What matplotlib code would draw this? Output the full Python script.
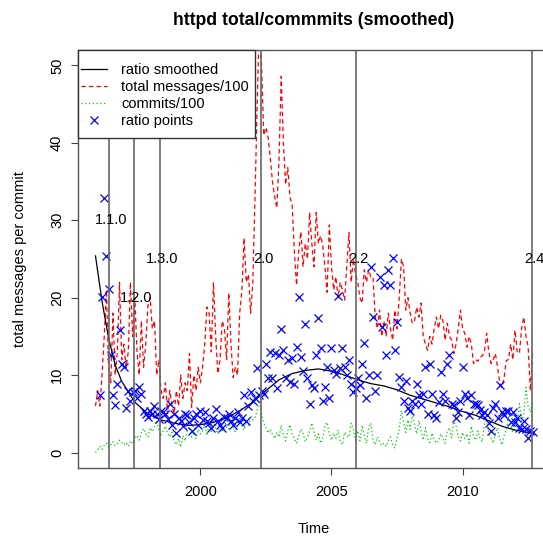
import numpy as np
import matplotlib
matplotlib.use('Agg')
import matplotlib.pyplot as plt
from matplotlib.patches import Rectangle

plt.rcParams['font.family'] = ['Liberation Sans', 'DejaVu Sans']

# monthly values, Jan 1996 .. Sep 2012
total_100 = [6,
    8, 6, 10, 15, 21, 11, 9, 18, 10, 13, 22, 12,
    14, 11, 13, 22, 15, 20, 13, 10, 17, 11, 14, 19,
    20, 16, 17, 10, 12, 8, 7, 9, 5, 8, 6, 5,
    8, 6, 10, 7, 9, 8, 12.8, 5.8, 10, 8, 11, 9,
    11, 14, 18.8, 18, 13, 22, 15, 10.2, 12, 17, 16, 12,
    20.6, 14, 9.7, 11, 10, 18, 21, 27.7, 22, 23, 18, 22,
    33, 45, 56, 50, 41, 42, 40.7, 38, 35, 33, 31.6, 38,
    48.6, 40, 34.6, 36.8, 33, 32, 26, 21.6, 26, 28.5, 24, 27,
    25, 31, 27, 24, 31, 27, 28, 26.8, 24, 20.7, 29.4, 24,
    21, 22.7, 20, 22, 21, 19.7, 24, 28.4, 22, 25, 23, 22,
    20, 19.3, 23.6, 22, 23.6, 22.7, 22.7, 17.5, 16, 18.4, 15, 17,
    15, 18, 16, 14.5, 18.4, 16, 20, 25, 24, 18.4, 20, 18,
    16.7, 17, 18.8, 17.5, 19.3, 15, 14, 13.2, 15, 14, 16, 17.5,
    16, 17.7, 17, 14.5, 16.7, 15, 14.5, 12.8, 14, 16, 18.4, 16,
    15.4, 13.6, 15, 14, 11.5, 12, 11.8, 12.3, 12.5, 13, 15.4, 13,
    11.5, 12, 12.8, 11, 9, 8.4, 9.7, 11.9, 12, 14, 12, 15.8,
    13, 12.8, 16, 17.5, 15, 13.6, 8, 12.8]

commits_100 = [0.0,
    0.3, 0.8, 0.4, 0.9, 1.2, 0.7, 1.0, 1.4, 0.9, 1.1, 1.6, 1.3,
    1.0, 1.3, 0.8, 1.5, 1.2, 1.8, 2.2, 1.6, 2.6, 3.1, 2.4, 2.0,
    3.2, 2.7, 3.4, 4.1, 3.0, 2.2, 2.8, 3.4, 2.5, 2.0, 2.6, 1.5,
    1.0, 1.8, 0.7, 2.2, 1.5, 2.8, 3.3, 2.0, 2.6, 1.8, 3.0, 2.4,
    2.8, 3.5, 2.2, 3.8, 2.6, 4.0, 3.0, 2.4, 3.6, 2.8, 4.2, 3.2,
    3.0, 4.3, 3.4, 2.6, 3.8, 4.6, 3.3, 2.9, 4.0, 3.5, 4.8, 4.2,
    4.5, 5.5, 6.7, 5.0, 3.8, 3.2, 2.5, 3.0, 2.3, 1.8, 2.6, 2.0,
    3.5, 2.2, 1.5, 2.8, 3.6, 2.4, 1.8, 1.2, 2.2, 3.0, 2.5, 1.4,
    2.0, 2.8, 3.8, 2.6, 1.6, 2.4, 1.2, 1.9, 3.5, 3.9, 2.4, 1.6,
    2.5, 1.8, 2.9, 1.5, 1.0, 2.6, 2.2, 2.0, 3.8, 3.0, 1.6, 2.8,
    1.5, 3.5, 2.2, 1.2, 3.2, 3.8, 1.6, 1.0, 2.0, 1.4, 0.9, 1.2,
    0.8, 1.5, 2.0, 1.0, 0.6, 1.8, 3.0, 5.4, 4.0, 2.6, 4.2, 3.0,
    5.0, 3.6, 2.4, 4.1, 2.8, 1.6, 3.2, 1.8, 1.3, 2.5, 1.6, 1.2,
    1.5, 2.4, 1.8, 1.2, 2.8, 3.2, 1.9, 4.0, 3.4, 2.0, 1.5, 2.6,
    1.8, 2.4, 1.2, 3.4, 2.0, 1.6, 2.8, 1.8, 1.4, 3.8, 4.1, 2.5,
    1.8, 1.2, 2.4, 3.2, 1.8, 1.0, 2.2, 3.0, 4.6, 3.4, 2.6, 4.8,
    3.6, 6.3, 4.0, 5.0, 8.4, 6.0, 5.2, 6.5]

nan = float('nan')
ratio = [nan, nan,
    7.4, 20.1, 32.9, 25.4, 21.1, 12.6, 7.4, 6.1, 8.9, 15.8, 11.5,
    11.1, 5.7, 8.0, 6.7, 7.8, 8.0, 7.1, 8.4, 7.6, 5.4, 5.0,
    4.6, 5.4, 5.0, 6.0, 5.0, 4.3, 5.4, 5.2, 5.0, 4.3, 6.3, 3.6,
    5.0, 2.5, 4.5, 4.1, 3.4, 5.0, 4.8, 3.9, 2.8, 4.4, 5.0, 3.6,
    5.4, 4.2, 5.2, 4.1, 3.8, 3.2, 4.5, 5.6, 4.1, 3.5, 3.2, 4.6,
    4.4, 5.0, 4.1, 3.6, 4.5, 5.2, 3.9, 4.4, 7.4, 4.1,
    6.0, 7.8, 6.7, 7.0, 10.9, 7.4, 8.0, 7.6, 11.5, 9.6, 13.0, 9.6, 12.8, 8.3,
    12.6, 16.0, 13.2, 9.6, 12.0, 9.1, 12.2, 8.9, 13.6, 20.1, 12.3, 10.5,
    16.6, 9.6, 6.3, 8.7, 8.3, 12.6, 17.4, 13.5, 6.7, 8.4, 11.0, 7.1,
    13.5, 10.6, 10.2, 20.2, 10.9, 13.5, 11.0, 10.0, 12.0, 8.9, 7.8, 8.3,
    9.6, 8.7, 11.5, 14.1, 7.0, 10.0, 24.0, 17.5, 8.0, 10.0, 22.7, 16.2,
    21.6, 12.6, 23.6, 21.6, 25.1, 13.3, 16.8, 9.7, 8.4, 6.7, 9.3, 5.8,
    5.4, 6.7, 6.3, 8.8, 7.4, 6.3, 7.6, 11.0, 5.0, 11.5, 7.6, 4.8,
    4.4, 6.5, 10.4, 7.6, 6.7, 11.5, 12.6, 6.3, 6.1, 4.4, 5.2, 6.7,
    11.0, 7.6, 7.1, 4.8, 7.4, 6.3, 6.3, 6.1, 5.5, 4.9, 5.2, 4.8,
    3.8, 2.8, 5.8, 6.3, 4.5, 8.7, 5.2, 4.8, 5.4, 5.4, 3.9, 5.2,
    3.9, 4.5, 3.2, 3.1, 4.1, 3.0, 1.9, 2.8, 2.6]

# smoothed ratio curve, read every half year
smooth_years = [1996.0, 1996.25, 1996.5, 1996.75, 1997.0, 1997.5, 1998.0, 1998.5,
                1999.0, 1999.5, 2000.0, 2000.5, 2001.0, 2001.5, 2002.0, 2002.5,
                2003.0, 2003.5, 2004.0, 2004.5, 2005.0, 2005.5, 2006.0, 2006.5,
                2007.0, 2007.5, 2008.0, 2008.5, 2009.0, 2009.5, 2010.0, 2010.5,
                2011.0, 2011.5, 2012.0, 2012.5, 2012.67]
smooth_ratio = [25.4, 19.5, 14.8, 11.3, 9.2, 6.5, 5.0, 4.2,
                3.8, 3.5, 3.6, 3.9, 4.5, 5.4, 6.5, 8.0,
                9.4, 10.2, 10.6, 10.8, 10.5, 10.0, 9.4, 8.9,
                8.6, 8.1, 7.4, 6.9, 6.4, 5.9, 5.3, 4.8,
                4.1, 3.4, 2.9, 2.6, 2.5]

release_names = ['1.1.0', '1.2.0', '1.3.0', '2.0', '2.2', '2.4']
release_years = [1996.51, 1997.46, 1998.45, 2002.30, 2005.92, 2012.64]
release_label_y = [30, 20, 25, 25, 25, 25]

months = 1996 + np.arange(len(total_100)) / 12.0

W, H = 543, 536
fig = plt.figure(figsize=(W / 100, H / 100), dpi=100)
ax = fig.add_axes([78 / W, 68 / H, 472 / W, 418 / H])

ax.plot(smooth_years, smooth_ratio, color='black', lw=0.9, label='ratio smoothed', zorder=3)
ax.plot(months, total_100, color='red', lw=0.9, ls=(0, (3.5, 2.5)), label='total messages/100', zorder=2)
ax.plot(months, commits_100, color='#00CD00', lw=0.9, ls=(0, (1, 2)), label='commits/100', zorder=2)
ax.plot(months, ratio, 'x', color='blue', ms=6, mew=0.9, label='ratio points', zorder=4)

for name, yr, ly in zip(release_names, release_years, release_label_y):
    ax.axvline(yr, color='#666666', lw=1.2, zorder=5)
    ax.text(yr + 0.1, ly, name, ha='center', va='center', fontsize=10.5, zorder=6)

ax.set_xlim(1995.333, 2013.333)
ax.set_ylim(-2, 52)
ax.set_xticks([2000, 2005, 2010])
ax.set_yticks([0, 10, 20, 30, 40, 50])
ax.tick_params(direction='out', length=5, width=0.8, color='#444444', labelsize=10.5)
ax.tick_params(axis='x', pad=7)
ax.tick_params(axis='y', pad=5)
for lab in ax.get_yticklabels():
    lab.set_rotation(90)
    lab.set_va('center')
for sp in ax.spines.values():
    sp.set_color('#555555')
    sp.set_linewidth(1.0)

ax.set_xlabel('Time', fontsize=10.5, labelpad=17)
ax.set_ylabel('total messages per commit', fontsize=10.5, labelpad=16.5)
ax.set_title('httpd total/commmits (smoothed)', fontsize=12.7, fontweight='bold', pad=18)

# legend box like R's: white box in the top-left corner
box = Rectangle((78 / W, (H - 138) / H), 177 / W, 88 / H, transform=fig.transFigure,
                facecolor='white', edgecolor='#333333', lw=1.0, zorder=9, clip_on=False)
ax.add_patch(box)
leg = ax.legend(loc='upper left', bbox_to_anchor=(81 / W, (H - 63) / H),
                bbox_transform=fig.transFigure, borderaxespad=0, borderpad=0,
                frameon=False, fontsize=10.5, handlelength=1.8,
                handletextpad=0.95, labelspacing=0.2, numpoints=1)
leg.set_zorder(10)

fig.savefig('out.png', dpi=100)
